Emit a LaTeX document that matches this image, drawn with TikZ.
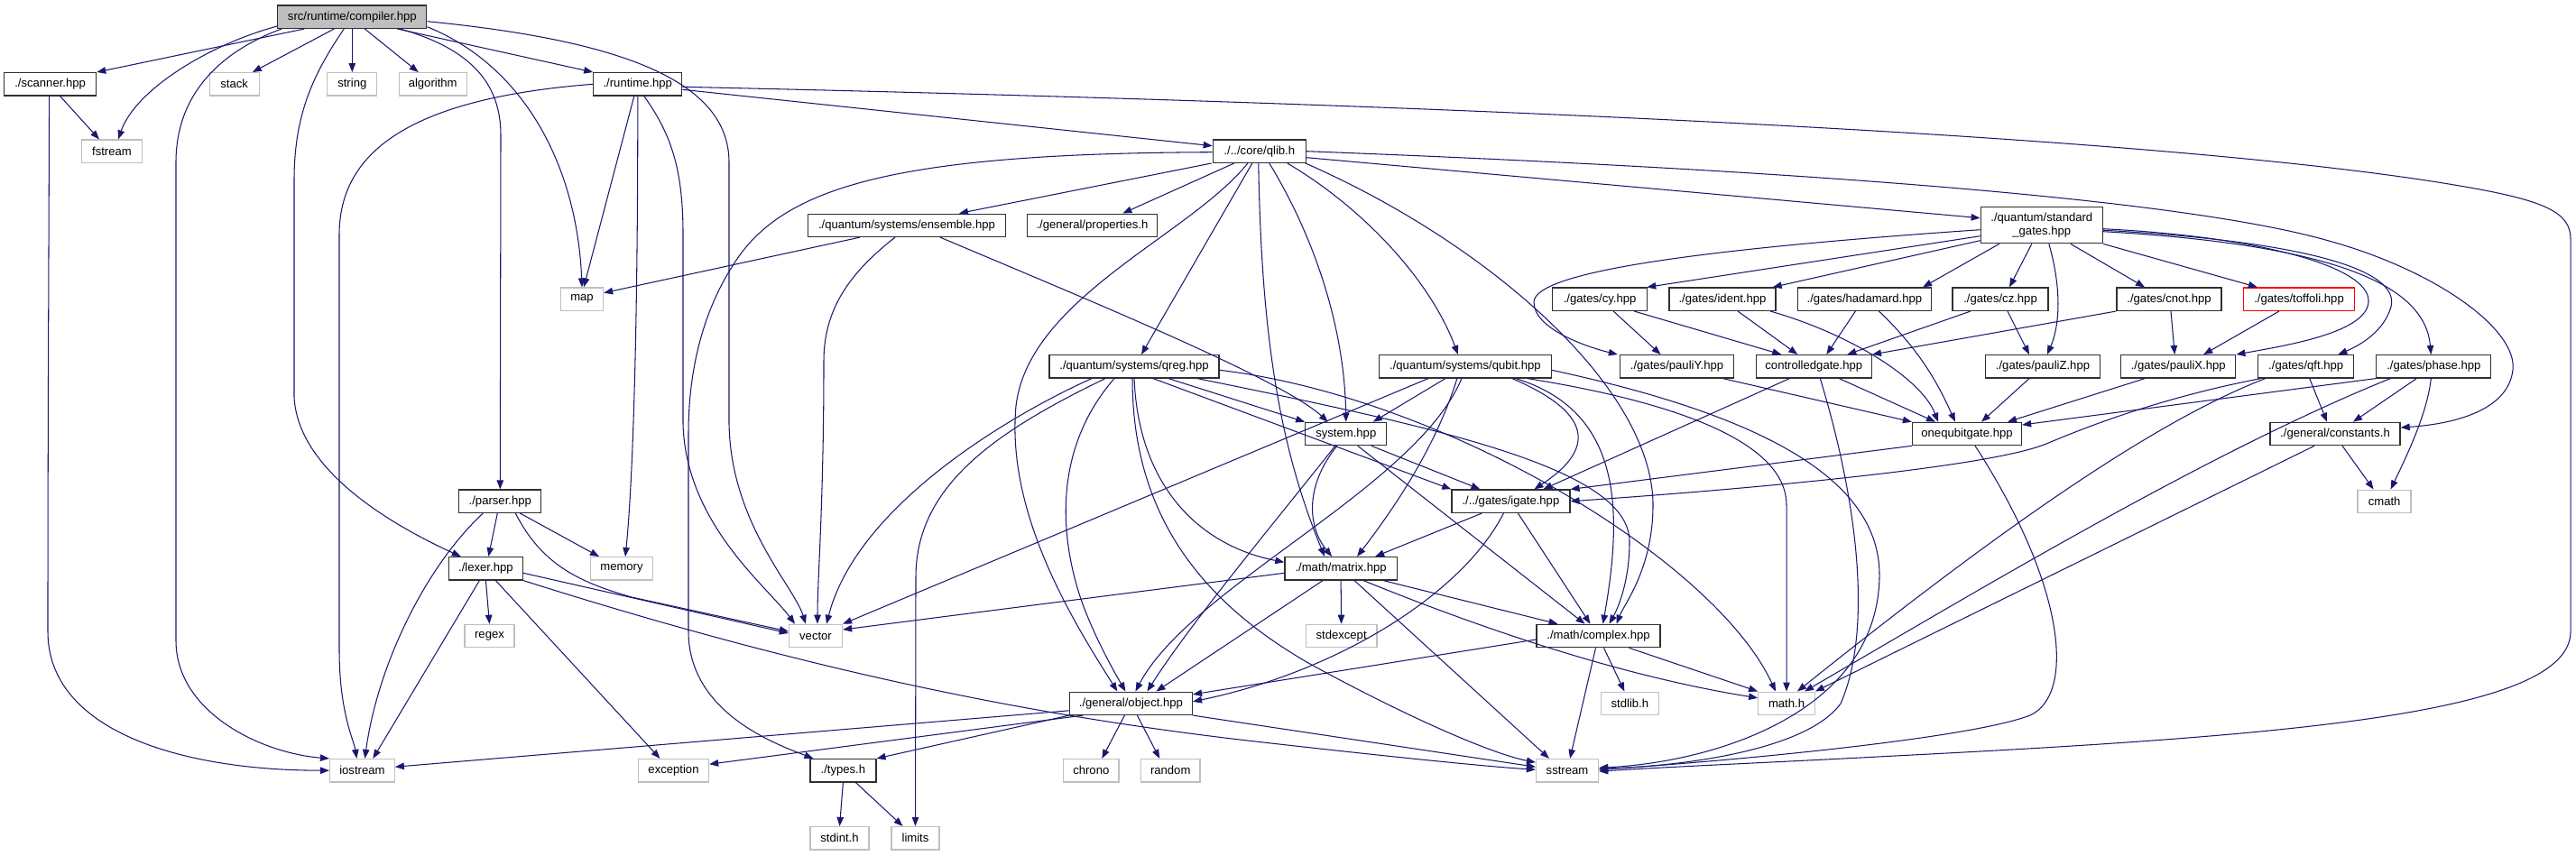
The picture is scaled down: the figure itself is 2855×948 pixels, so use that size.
\documentclass[tikz,border=0pt]{standalone}
\usepackage{fontspec}
\setmainfont{Liberation Sans}
\usetikzlibrary{arrows.meta}
\definecolor{edgec}{HTML}{191970}
\definecolor{extc}{HTML}{BFBFBF}
\definecolor{boxc}{HTML}{303030}
\definecolor{mainfill}{HTML}{BFBFBF}
\tikzset{
  nd/.style={draw=boxc, line width=1.3pt, fill=white, minimum height=25.3pt, inner sep=0pt,
    font=\fontsize{13.1}{15}\selectfont, text=black},
  ext/.style={nd, draw=extc},
  mainnd/.style={nd, fill=mainfill},
  rednd/.style={nd, draw=red},
  e/.style={draw=edgec, line width=1.05pt, -{Triangle[length=10pt,width=7.5pt]}},
}
\begin{document}
\begin{tikzpicture}[x=1pt,y=-1pt]
\fill[white] (0,0) rectangle (2855,948);
\useasboundingbox (0,0) rectangle (2855,948);
% ---------- nodes ----------
\node[mainnd, minimum width=165pt] (compiler) at (390.3,18.7) {src/runtime/compiler.hpp};
\node[nd, minimum width=102pt] (scanner) at (55.6,93.3) {./scanner.hpp};
\node[ext, minimum width=55pt] (stack) at (259.7,93.3) {stack};
\node[ext, minimum width=55pt] (string) at (390.3,93.3) {string};
\node[ext, minimum width=75pt] (algorithm) at (479.7,93.3) {algorithm};
\node[nd, minimum width=98pt] (runtime) at (706.8,93.3) {./runtime.hpp};
\node[ext, minimum width=67pt] (fstream) at (124,167.7) {fstream};
\node[nd, minimum width=103pt] (qlib) at (1395.8,167.7) {./../core/qlib.h};
\node[nd, minimum width=219pt] (ensemble) at (1005,249.8) {./quantum/systems/ensemble.hpp};
\node[nd, minimum width=144pt] (props) at (1210.4,249.8) {./general/properties.h};
\node[nd, minimum width=135pt, minimum height=40pt, align=center] (stdgates) at (2262.8,249.7) {./quantum/standard\\\_gates.hpp};
\node[ext, minimum width=47pt] (map) at (645,331.7) {map};
\node[nd, minimum width=105pt] (cy) at (1773.1,331.7) {./gates/cy.hpp};
\node[nd, minimum width=118pt] (ident) at (1909,331.7) {./gates/ident.hpp};
\node[nd, minimum width=148pt] (hadamard) at (2066.4,331.7) {./gates/hadamard.hpp};
\node[nd, minimum width=106pt] (cz) at (2217,331.7) {./gates/cz.hpp};
\node[nd, minimum width=116pt] (cnot) at (2404,331.7) {./gates/cnot.hpp};
\node[rednd, minimum width=123pt] (toffoli) at (2548,331.7) {./gates/toffoli.hpp};
\node[nd, minimum width=188pt] (qreg) at (1257,406.3) {./quantum/systems/qreg.hpp};
\node[nd, minimum width=190.5pt] (qubit) at (1623.9,406.3) {./quantum/systems/qubit.hpp};
\node[nd, minimum width=126pt] (pauliY) at (1858.5,406.3) {./gates/pauliY.hpp};
\node[nd, minimum width=128pt] (cgate) at (2010.3,406.3) {controlledgate.hpp};
\node[nd, minimum width=127pt] (pauliZ) at (2264,406.3) {./gates/pauliZ.hpp};
\node[nd, minimum width=127pt] (pauliX) at (2414.2,406.3) {./gates/pauliX.hpp};
\node[nd, minimum width=106pt] (qft) at (2555.7,406.3) {./gates/qft.hpp};
\node[nd, minimum width=127pt] (phase) at (2697.3,406.3) {./gates/phase.hpp};
\node[nd, minimum width=90pt] (system) at (1491.8,481) {system.hpp};
\node[nd, minimum width=121pt] (oqg) at (2180,481) {onequbitgate.hpp};
\node[nd, minimum width=144pt] (constants) at (2588,481) {./general/constants.h};
\node[nd, minimum width=91pt] (parser) at (554.3,555.7) {./parser.hpp};
\node[nd, minimum width=131pt] (igate) at (1674.4,555.7) {./../gates/igate.hpp};
\node[ext, minimum width=59pt] (cmath) at (2642.6,555.8) {cmath};
\node[nd, minimum width=82pt] (lexer) at (538.4,630.3) {./lexer.hpp};
\node[ext, minimum width=69.5pt] (memory) at (689,630.3) {memory};
\node[nd, minimum width=124.4pt] (matrix) at (1486.1,630.3) {./math/matrix.hpp};
\node[ext, minimum width=59pt] (vector) at (904,705) {vector};
\node[ext, minimum width=55pt] (regex) at (542.5,705) {regex};
\node[ext, minimum width=78.5pt] (stdexcept) at (1486.6,705) {stdexcept};
\node[nd, minimum width=137pt] (complex) at (1771.5,705) {./math/complex.hpp};
\node[ext, minimum width=64pt] (stdlib) at (1806.4,779.8) {stdlib.h};
\node[ext, minimum width=62.5pt] (mathh) at (1980,779.8) {math.h};
\node[nd, minimum width=136pt] (object) at (1253.4,779.8) {./general/object.hpp};
\node[ext, minimum width=71.6pt] (iostream) at (401.4,854.2) {iostream};
\node[ext, minimum width=78pt] (exception) at (746.5,854.2) {exception};
\node[nd, minimum width=73pt] (types) at (934.4,854.2) {./types.h};
\node[ext, minimum width=61.5pt] (chrono) at (1209.3,854.2) {chrono};
\node[ext, minimum width=65.7pt] (random) at (1297.2,854.2) {random};
\node[ext, minimum width=69pt] (sstream) at (1737,854.2) {sstream};
\node[ext, minimum width=65pt] (stdint) at (930.5,929.2) {stdint.h};
\node[ext, minimum width=53pt] (limits) at (1014.5,929.2) {limits};
% ---------- edges ----------
% compiler
\draw[e] ([xshift=-53]compiler.south) -- (scanner.north east);
\draw[e] ([yshift=3]compiler.south west) .. controls (230,50) and (150,100) .. ([xshift=7]fstream.north);
\draw[e] ([xshift=5]compiler.south west) .. controls (250,55) and (195,100) .. (195,180) -- (195,710) .. controls (195,790) and (290,835) .. (iostream.north west);
\draw[e] ([xshift=-20]compiler.south) -- ([xshift=-8]stack.north east);
\draw[e] ([xshift=-9]compiler.south) .. controls (345,85) and (326,130) .. (326,200) -- (326,440) .. controls (330,520) and (430,580) .. ([xshift=14]lexer.north west);
\draw[e] (compiler.south) -- (string.north);
\draw[e] ([xshift=14]compiler.south) -- ([xshift=-16]algorithm.north);
\draw[e] ([xshift=50]compiler.south) -- (runtime.north west);
\draw[e] ([xshift=53]compiler.south) .. controls (525,55) and (555,95) .. (555,150) -- (parser.north);
\draw[e] ([yshift=-11]compiler.east) .. controls (585,75) and (640,190) .. (map.north);
\draw[e] ([yshift=-5]compiler.east) .. controls (690,45) and (808,90) .. (808,180) -- (808,470) .. controls (810,580) and (880,650) .. ([xshift=-11]vector.north);
% runtime
\draw[e] (runtime.west) .. controls (470,108) and (376,160) .. (376,260) -- (376,720) .. controls (376,790) and (392,820) .. ([xshift=-6]iostream.north);
\draw[e] ([xshift=-4]runtime.south) -- ([xshift=2]map.north);
\draw[e] (runtime.south) .. controls (707,400) and (700,550) .. ([xshift=4]memory.north);
\draw[e] ([xshift=7]runtime.south) .. controls (745,150) and (757,190) .. (757,260) -- (757,470) .. controls (760,580) and (850,650) .. ([xshift=-23]vector.north);
\draw[e] ([yshift=-6]runtime.east) -- ([yshift=6]qlib.west);
\draw[e] ([yshift=-3]runtime.east) .. controls (1600,115) and (2400,150) .. (2726,206) .. controls (2820,222) and (2849,235) .. (2849,265) -- (2849,700) .. controls (2849,790) and (2550,815) .. (2100,838) .. controls (1950,846) and (1850,850) .. ([yshift=-1]sstream.east);
% scanner
\draw[e] ([xshift=11]scanner.south) -- ([xshift=-14]fstream.north);
\draw[e] ([xshift=-1]scanner.south) .. controls (54,300) and (53,500) .. (53,700) .. controls (53,810) and (200,854) .. (iostream.west);
% ensemble
\draw[e] ([xshift=-52]ensemble.south) -- ([yshift=7]map.east);
\draw[e] ([xshift=-13]ensemble.south) .. controls (945,300) and (913,340) .. (913,400) .. controls (913,560) and (906,640) .. ([xshift=2]vector.north);
\draw[e] ([xshift=37]ensemble.south) .. controls (1200,330) and (1420,420) .. ([xshift=-20]system.north);
% qlib
\draw[e] ([yshift=-1]qlib.west) .. controls (1000,170) and (870,205) .. (815,290) .. controls (775,350) and (763,420) .. (763,480) -- (763,700) .. controls (763,790) and (860,825) .. ([xshift=-33]types.north);
\draw[e] ([xshift=-1]qlib.south west) -- ([xshift=58]ensemble.north);
\draw[e] ([xshift=-28]qlib.south) -- ([xshift=34]props.north);
\draw[e] ([xshift=-13]qlib.south) .. controls (1320,260) and (1140,330) .. (1126,450) .. controls (1115,570) and (1190,690) .. ([xshift=-15]object.north);
\draw[e] ([xshift=-8]qlib.south) -- ([xshift=8]qreg.north);
\draw[e] ([xshift=-1]qlib.south) .. controls (1398,380) and (1420,500) .. ([xshift=-18]matrix.north);
\draw[e] ([xshift=11]qlib.south) .. controls (1455,260) and (1490,360) .. (system.north);
\draw[e] ([xshift=31]qlib.south) .. controls (1510,230) and (1585,310) .. ([xshift=-8]qubit.north);
\draw[e] ([xshift=51]qlib.south) .. controls (1650,270) and (1832,430) .. (1832,560) .. controls (1832,630) and (1800,670) .. ([xshift=20]complex.north);
\draw[e] ([yshift=-7]qlib.east) -- ([yshift=8]stdgates.west);
\draw[e] (qlib.east) .. controls (1900,185) and (2400,215) .. (2581,267) .. controls (2700,300) and (2790,365) .. (2785,410) .. controls (2780,455) and (2720,470) .. ([yshift=7]constants.east);
% standard gates
\draw[e] ([yshift=-5]stdgates.west) .. controls (1900,275) and (1700,300) .. (1700,335) .. controls (1700,365) and (1760,385) .. ([xshift=-2]pauliY.north west);
\draw[e] ([yshift=-12]stdgates.west) -- ([xshift=-1]cy.north east);
\draw[e] ([yshift=-17]stdgates.west) -- ([xshift=-4]ident.north east);
\draw[e] ([xshift=-47]stdgates.south) -- ([xshift=-10]hadamard.north east);
\draw[e] ([xshift=-11]stdgates.south) -- ([xshift=10]cz.north);
\draw[e] ([xshift=8]stdgates.south) .. controls (2285,320) and (2283,360) .. ([xshift=5]pauliZ.north);
\draw[e] ([xshift=32]stdgates.south) -- ([xshift=-27]cnot.north);
\draw[e] (stdgates.south east) -- ([xshift=16]toffoli.north west);
\draw[e] ([yshift=-4]stdgates.east) .. controls (2500,262) and (2628,295) .. (2625,335) .. controls (2622,368) and (2540,382) .. (pauliX.north east);
\draw[e] ([yshift=-5.5]stdgates.east) .. controls (2560,268) and (2660,300) .. (2650,340) .. controls (2642,368) and (2615,383) .. ([xshift=-18]qft.north east);
\draw[e] ([yshift=-7]stdgates.east) .. controls (2600,272) and (2688,320) .. ([xshift=-3]phase.north);
% gates
\draw[e] ([xshift=15]cy.south) -- ([xshift=-18]pauliY.north);
\draw[e] ([xshift=38]cy.south) -- ([xshift=-36]cgate.north);
\draw[e] ([xshift=17]ident.south) -- ([xshift=-18]cgate.north);
\draw[e] ([xshift=53]ident.south) .. controls (2050,370) and (2130,420) .. ([xshift=-32]oqg.north);
\draw[e] ([xshift=-10]hadamard.south) -- ([xshift=14]cgate.north);
\draw[e] ([xshift=16]hadamard.south) .. controls (2130,390) and (2150,430) .. ([xshift=-13]oqg.north);
\draw[e] ([xshift=-33]cz.south) -- ([xshift=37]cgate.north);
\draw[e] ([xshift=8]cz.south) -- ([xshift=-15]pauliZ.north);
\draw[e] (cnot.south west) -- (cgate.north east);
\draw[e] ([xshift=2]cnot.south) -- ([xshift=-4]pauliX.north);
\draw[e] ([xshift=-22]toffoli.south) -- ([xshift=28]pauliX.north);
\draw[e] ([xshift=51]pauliY.south) -- (oqg.north west);
\draw[e] ([xshift=28]cgate.south) -- ([xshift=-35]oqg.north);
\draw[e] ([xshift=-27]cgate.south) -- ([xshift=36]igate.north);
\draw[e] ([xshift=7]cgate.south) .. controls (2060,560) and (2075,700) .. (2040,780) .. controls (2000,835) and (1850,850) .. ([yshift=2]sstream.east);
\draw[e] ([xshift=-15]pauliZ.south) -- ([xshift=16]oqg.north);
\draw[e] ([xshift=-37]pauliX.south) -- ([xshift=45]oqg.north);
\draw[e] ([xshift=-50]qft.south) .. controls (2400,440) and (2320,470) .. (2268,492) .. controls (2200,520) and (1900,545) .. (igate.east);
\draw[e] ([xshift=-45]qft.south) .. controls (2380,470) and (2200,600) .. ([xshift=12]mathh.north);
\draw[e] ([xshift=4]qft.south) -- ([xshift=-9]constants.north);
\draw[e] ([xshift=-19]phase.south) -- ([xshift=20]constants.north);
\draw[e] ([xshift=-3]phase.south) .. controls (2690,460) and (2665,510) .. ([xshift=7]cmath.north);
\draw[e] (phase.south west) -- ([yshift=10]oqg.east);
\draw[e] ([xshift=-48]phase.south) .. controls (2450,500) and (2200,650) .. ([xshift=20]mathh.north);
\draw[e] ([xshift=8]constants.south) -- ([xshift=-12]cmath.north);
\draw[e] ([xshift=-23]constants.south) -- (mathh.north east);
\draw[e] (oqg.south west) -- (igate.north east);
\draw[e] ([xshift=9]oqg.south) .. controls (2290,650) and (2300,770) .. (2250,793) .. controls (2180,820) and (1900,845) .. ([yshift=1]sstream.east);
% igate / system
\draw[e] ([xshift=-32]igate.south) -- ([xshift=38]matrix.north);
\draw[e] ([xshift=-8]igate.south) .. controls (1620,660) and (1480,745) .. ([yshift=2]object.east);
\draw[e] ([xshift=8]igate.south) -- ([xshift=-9]complex.north);
\draw[e] ([xshift=28]system.south) -- ([xshift=-34]igate.north);
\draw[e] ([xshift=-10]system.south) .. controls (1445,540) and (1450,585) .. ([xshift=-10]matrix.north);
\draw[e] ([xshift=-12]system.south) .. controls (1420,570) and (1320,690) .. ([xshift=18]object.north);
\draw[e] ([xshift=13]system.south) -- ([xshift=-15]complex.north);
% qreg
\draw[e] ([xshift=-47]qreg.south) .. controls (1120,460) and (950,560) .. ([xshift=12]vector.north);
\draw[e] ([xshift=-32]qreg.south) .. controls (1100,480) and (1015,540) .. (1015,640) -- (limits.north);
\draw[e] ([xshift=-22]qreg.south) .. controls (1165,500) and (1175,600) .. (1200,670) .. controls (1215,710) and (1235,745) .. ([xshift=-6]object.north);
\draw[e] ([xshift=-2]qreg.south) .. controls (1255,560) and (1320,660) .. (1450,735) .. controls (1550,790) and (1650,835) .. ([yshift=9]sstream.west);
\draw[e] (qreg.south) .. controls (1262,540) and (1330,605) .. ([yshift=7]matrix.west);
\draw[e] ([xshift=21]qreg.south) -- (igate.north west);
\draw[e] ([xshift=38]qreg.south) -- (system.north west);
\draw[e] ([xshift=70]qreg.south) .. controls (1600,475) and (1805,520) .. (1806,600) .. controls (1806,650) and (1790,680) .. ([xshift=12]complex.north);
\draw[e] ([yshift=-4]qreg.east) .. controls (1600,440) and (1900,620) .. ([xshift=-12]mathh.north);
% qubit
\draw[e] ([xshift=-41]qubit.south) -- (vector.north east);
\draw[e] ([xshift=-22]qubit.south) -- ([xshift=30]system.north);
\draw[e] ([xshift=-9]qubit.south) .. controls (1590,500) and (1540,570) .. ([xshift=18]matrix.north);
\draw[e] ([xshift=-4]qubit.south) .. controls (1570,540) and (1320,650) .. ([xshift=5]object.north);
\draw[e] ([xshift=52]qubit.south) .. controls (1770,460) and (1765,500) .. ([xshift=26]igate.north);
\draw[e] ([xshift=56]qubit.south) .. controls (1795,455) and (1800,560) .. ([xshift=5]complex.north);
\draw[e] ([xshift=69]qubit.south) .. controls (1820,440) and (1980,480) .. (1980,560) -- (mathh.north);
\draw[e] ([yshift=-4]qubit.east) .. controls (1950,460) and (2085,530) .. (2083,640) .. controls (2080,790) and (1900,845) .. ([yshift=3]sstream.east);
% matrix
\draw[e] ([yshift=-5]matrix.west) -- ([yshift=7]vector.east);
\draw[e] (matrix.south) -- (stdexcept.north);
\draw[e] ([xshift=47]matrix.south) -- ([xshift=-45]complex.north);
\draw[e] ([xshift=-20]matrix.south) -- ([xshift=28]object.north);
\draw[e] ([xshift=15]matrix.south) -- ([xshift=-20]sstream.north);
\draw[e] ([xshift=25]matrix.south) .. controls (1650,700) and (1800,750) .. ([yshift=6]mathh.west);
% complex
\draw[e] ([yshift=-4]complex.west) -- ([yshift=10]object.east);
\draw[e] ([xshift=6]complex.south) -- ([xshift=-6]stdlib.north);
\draw[e] ([xshift=34]complex.south) -- (mathh.north west);
\draw[e] ([xshift=-3]complex.south) -- ([xshift=3]sstream.north);
% object
\draw[e] ([yshift=-8]object.west) -- ([yshift=4]iostream.east);
\draw[e] ([xshift=-53]object.south) -- ([yshift=7]exception.east);
\draw[e] (object.south west) -- (types.north east);
\draw[e] ([xshift=-7]object.south) -- ([xshift=12]chrono.north);
\draw[e] ([xshift=7]object.south) -- ([xshift=-12]random.north);
\draw[e] (object.south east) -- ([yshift=4]sstream.west);
% types
\draw[e] (types.south) -- (stdint.north);
\draw[e] ([xshift=14]types.south) -- ([xshift=-14]limits.north);
% lexer
\draw[e] (lexer.south) -- (regex.north);
\draw[e] ([xshift=-7]lexer.south) -- ([xshift=12]iostream.north);
\draw[e] ([xshift=11]lexer.south) -- ([xshift=-15]exception.north);
\draw[e] ([yshift=-5]lexer.east) -- ([yshift=3]vector.west);
\draw[e] (lexer.south east) .. controls (900,745) and (1150,795) .. (1400,823) .. controls (1550,840) and (1650,850) .. ([yshift=1]sstream.west);
% parser
\draw[e] ([xshift=-3]parser.south) -- ([xshift=3]lexer.north);
\draw[e] ([xshift=-19]parser.south) .. controls (470,630) and (418,740) .. ([xshift=3]iostream.north);
\draw[e] ([xshift=22]parser.south) -- ([xshift=-25]memory.north);
\draw[e] ([xshift=17]parser.south) .. controls (600,625) and (640,645) .. (700,662) -- ([yshift=5]vector.west);
\end{tikzpicture}
\end{document}
